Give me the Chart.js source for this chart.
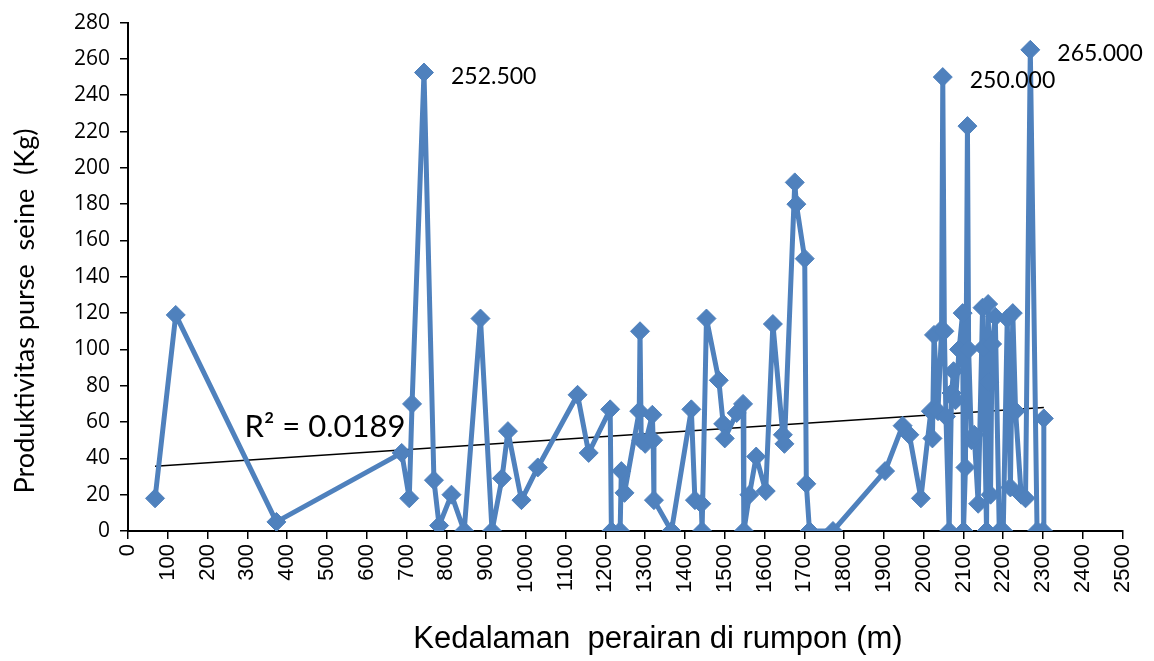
<!DOCTYPE html>
<html>
<head>
<meta charset="utf-8">
<script src="https://cdn.jsdelivr.net/npm/chart.js@4.4.1/dist/chart.umd.min.js"></script>
<style>
  html, body { margin: 0; padding: 0; background: #fff; }
  #wrap { width: 1154px; height: 661px; }
</style>
</head>
<body>
<div id="wrap"><canvas id="chart" width="1154" height="661"></canvas></div>
<script>
// kedalaman perairan di rumpon (m)
const depthM = [
  68, 120, 373, 688, 707, 714, 744, 769, 782, 813,
  845, 886, 915, 940, 955, 989, 1030, 1130, 1158, 1212,
  1215, 1237, 1240, 1248, 1285, 1287, 1290, 1300, 1318, 1320,
  1322, 1366, 1416, 1425, 1441, 1443, 1454, 1485, 1496, 1500,
  1530, 1546, 1548, 1562, 1579, 1603, 1621, 1646, 1650, 1676,
  1680, 1701, 1705, 1713, 1772, 1903, 1947, 1964, 1993, 2018,
  2022, 2026, 2036, 2045, 2048, 2052, 2056, 2064, 2070, 2075,
  2080, 2089, 2098, 2100, 2105, 2110, 2113, 2120, 2127, 2137,
  2148, 2150, 2158, 2162, 2165, 2168, 2172, 2180, 2190, 2200,
  2210, 2218, 2224, 2231, 2245, 2256, 2268, 2285, 2300, 2302
];

// produktivitas purse seine (Kg)
const catchKg = [
  18, 119, 5, 43, 18, 70, 252.5, 28, 3, 20,
  0, 117, 0, 29, 55, 17, 35, 75, 43, 67,
  0, 0, 33, 21, 66, 110, 50, 48, 64, 50,
  17, 0, 67, 17, 15, 0, 117, 83, 59, 51,
  65, 70, 0, 20, 41, 22, 114, 53, 48, 192,
  180, 150, 26, 0, 0, 33, 58, 53, 18, 66,
  51, 108, 66, 111, 250, 110, 63, 0, 76, 88,
  72, 100, 120, 0, 35, 223, 100, 50, 53, 15,
  123, 101, 0, 125, 82, 20, 103, 118, 0, 0,
  117, 24, 120, 66, 20, 18, 265, 0, 0, 62
];

// linear trend line ends
const trendDepth = [68, 2302];
const trendKg = [35.6, 68];
const rSquared = 'R\u00b2 = 0.0189';

const xTitle = 'Kedalaman  perairan di rumpon (m)';
const yTitle = 'Produktivitas purse  seine  (Kg)';

const BLUE = '#4F81BD';

const points = depthM.map((d, i) => ({ x: d, y: catchKg[i] }));
const trend = trendDepth.map((d, i) => ({ x: d, y: trendKg[i] }));

// labels on the peaks, R² text and axis titles
const annotations = {
  id: 'annotations',
  afterDatasetsDraw(chart) {
    const ctx = chart.ctx;
    const xs = chart.scales.x;
    const ys = chart.scales.y;
    ctx.save();
    ctx.fillStyle = '#000';

    ctx.font = '23px Lato, "Open Sans", sans-serif';
    ctx.textAlign = 'left';
    ctx.textBaseline = 'alphabetic';
    points.forEach(p => {
      if (p.y > 245) {
        ctx.fillText(p.y.toFixed(3), xs.getPixelForValue(p.x) + 27, ys.getPixelForValue(p.y) + 11);
      }
    });

    ctx.font = '31px Lato, "Open Sans", sans-serif';
    ctx.fillText(rSquared, xs.getPixelForValue(293), ys.getPixelForValue(51.5));

    ctx.font = '31px "Liberation Sans", Arial, sans-serif';
    ctx.textAlign = 'center';
    ctx.fillText(xTitle, 658, 648);

    ctx.translate(34, 311);
    ctx.rotate(-Math.PI / 2);
    ctx.font = '27px Lato, "Open Sans", sans-serif';
    ctx.fillText(yTitle, 0, 0);
    ctx.restore();
  }
};

new Chart(document.getElementById('chart'), {
  type: 'scatter',
  data: {
    datasets: [
      {
        data: points,
        showLine: true,
        borderColor: BLUE,
        borderWidth: 5,
        borderJoinStyle: 'round',
        tension: 0,
        pointStyle: 'rectRot',
        pointRadius: 9.5,
        pointBackgroundColor: BLUE,
        pointBorderColor: BLUE,
        pointBorderWidth: 1
      },
      {
        data: trend,
        showLine: true,
        borderColor: '#000',
        borderWidth: 1.5,
        pointRadius: 0
      }
    ]
  },
  options: {
    responsive: false,
    animation: false,
    layout: { padding: { top: 20, right: 29, left: 0, bottom: 0 } },
    plugins: {
      legend: { display: false },
      tooltip: { enabled: false }
    },
    scales: {
      x: {
        type: 'linear',
        min: 0,
        max: 2500,
        afterFit: s => { s.height = 130; },
        ticks: {
          stepSize: 100,
          autoSkip: false,
          minRotation: 90,
          maxRotation: 90,
          padding: 5,
          color: '#000',
          font: { family: '"Liberation Sans", Arial, sans-serif', size: 22 },
          callback: v => String(v)
        },
        grid: { drawOnChartArea: false, color: '#000', tickLength: 8, lineWidth: 1.5 },
        border: { color: '#000', width: 2 }
      },
      y: {
        min: 0,
        max: 280,
        afterFit: s => { s.width = 128; },
        ticks: {
          stepSize: 20,
          padding: 10,
          color: '#000',
          font: { family: '"Open Sans", sans-serif', size: 21 }
        },
        grid: { drawOnChartArea: false, color: '#000', tickLength: 8, lineWidth: 1.5 },
        border: { color: '#000', width: 2 }
      }
    }
  },
  plugins: [annotations]
});
</script>
</body>
</html>
